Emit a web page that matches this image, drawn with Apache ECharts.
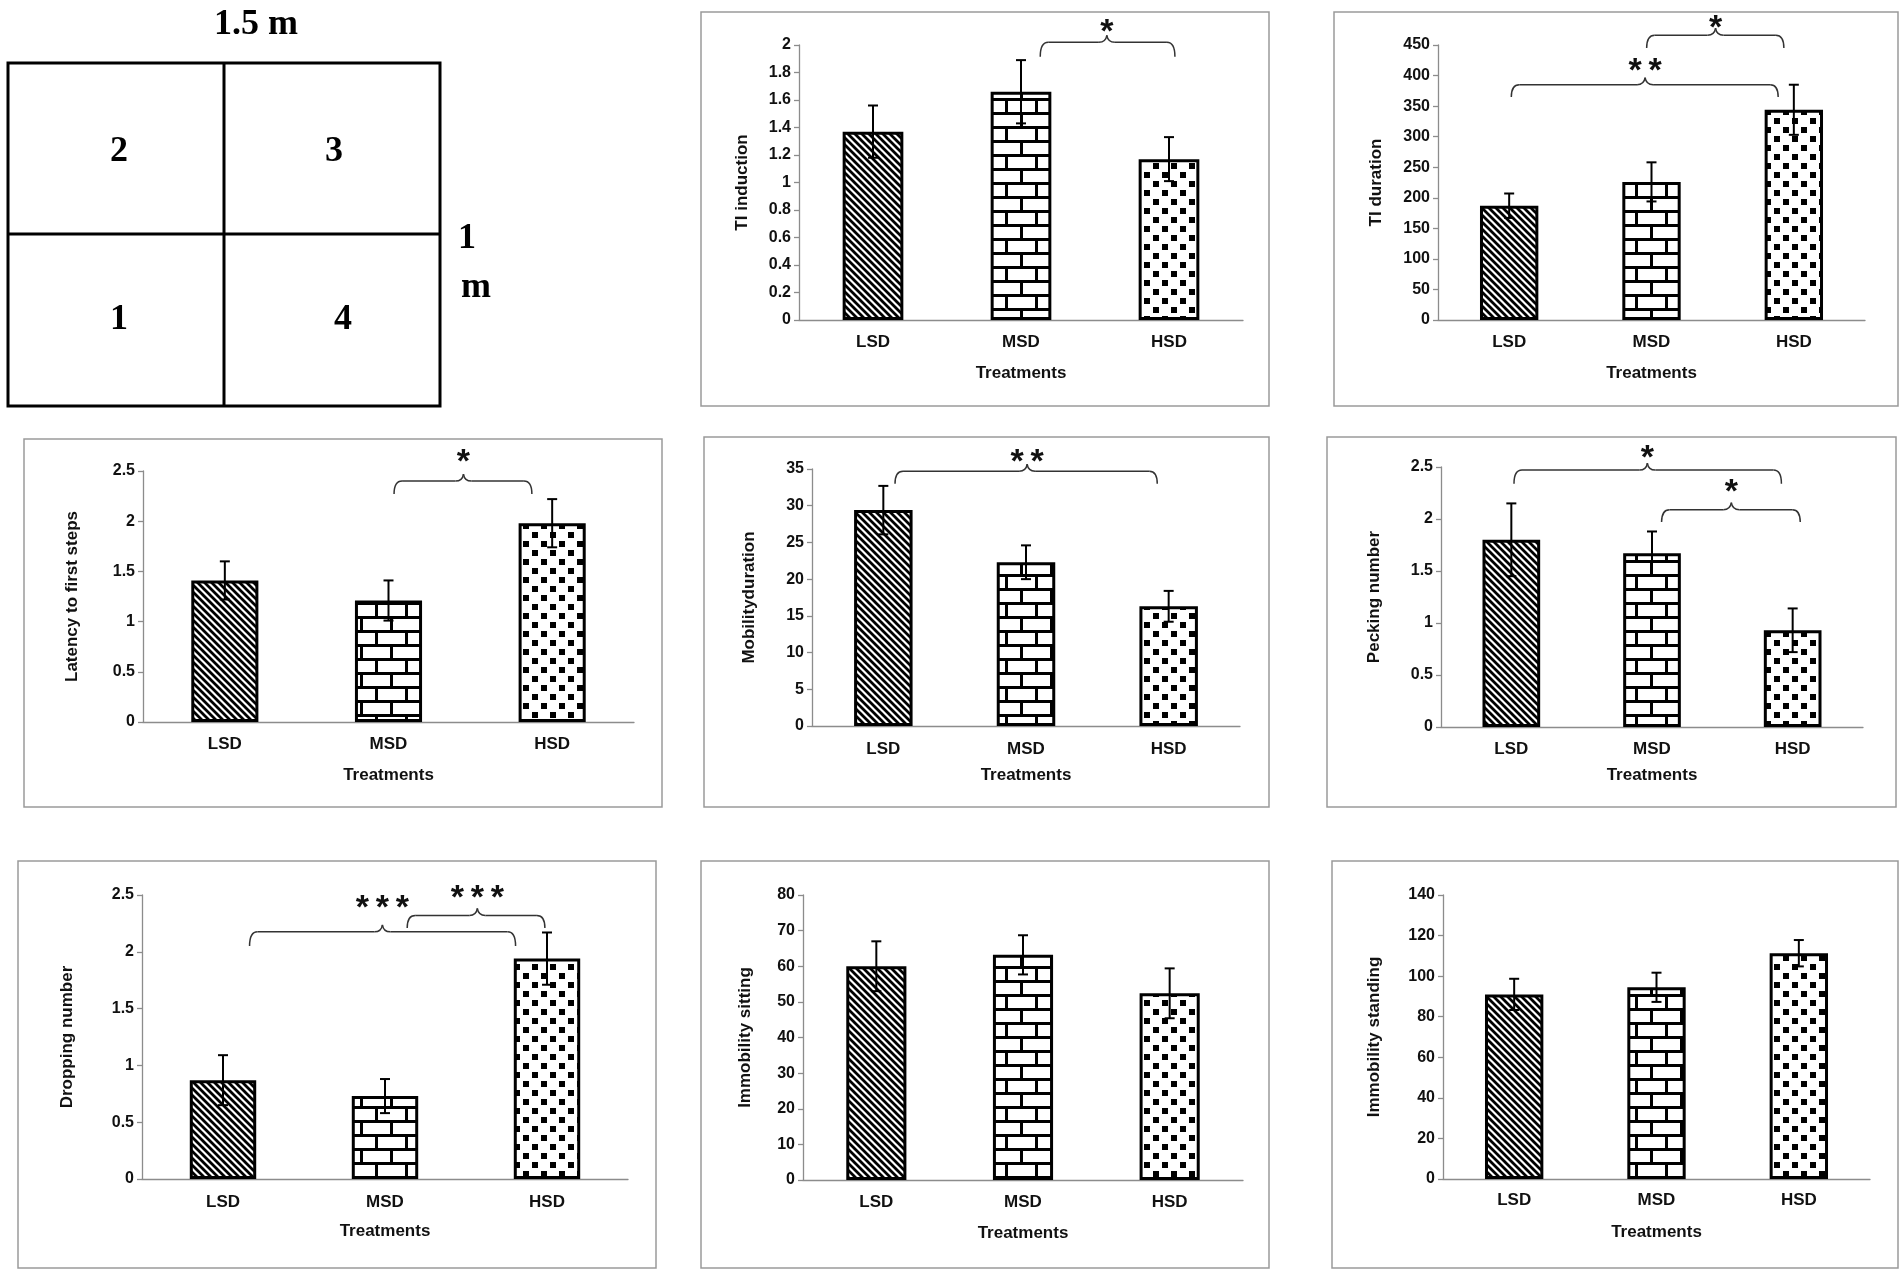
<!DOCTYPE html>
<html><head><meta charset="utf-8">
<script src="https://cdn.jsdelivr.net/npm/echarts/dist/echarts.min.js"></script>
<style>html,body{margin:0;padding:0;background:#fff}#c{width:1902px;height:1274px}</style>
</head><body><div id="c"></div><script>
// ---------- data ----------
const categories = ['LSD', 'MSD', 'HSD'];

const tiInduction = [1.37, 1.66, 1.17];
const tiInductionErr = [0.19, 0.23, 0.16];
const tiDuration = [187, 226, 344];
const tiDurationErr = [20, 32, 41];
const latency = [1.41, 1.21, 1.98];
const latencyErr = [0.19, 0.20, 0.24];
const mobility = [29.4, 22.3, 16.3];
const mobilityErr = [3.3, 2.3, 2.1];
const pecking = [1.80, 1.67, 0.93];
const peckingErr = [0.35, 0.21, 0.21];
const dropping = [0.87, 0.73, 1.94];
const droppingErr = [0.22, 0.15, 0.23];
const sitting = [60, 63.2, 52.4];
const sittingErr = [7, 5.5, 7];
const standing = [91, 94.5, 111.3];
const standingErr = [7.7, 7.2, 6.5];

// significance brackets: [xStart, xEnd, xPeak (category units), yLevel, yEnd, yStar (value units), label]
const tiInductionSig = [[1.13, 2.04, 1.58, 2.02, 1.915, 2.15, '*']];
const tiDurationSig = [[0.015, 1.89, 0.955, 385, 365, 419, '**'], [0.966, 1.93, 1.45, 466, 445, 490, '*']];
const latencySig = [[1.034, 1.876, 1.458, 2.40, 2.27, 2.66, '*']];
const mobilitySig = [[0.082, 1.92, 1.008, 34.7, 33.0, 36.9, '**']];
const peckingSig = [[0.019, 1.92, 0.967, 2.47, 2.34, 2.66, '*'], [1.068, 2.054, 1.564, 2.09, 1.97, 2.33, '*']];
const droppingSig = [[0.164, 1.806, 0.984, 2.176, 2.05, 2.45, '***'], [1.137, 1.987, 1.57, 2.32, 2.21, 2.54, '***']];

const yTicks = {
  tiInduction: [0, 2, 0.2], tiDuration: [0, 450, 50], latency: [0, 2.5, 0.5], mobility: [0, 35, 5],
  pecking: [0, 2.5, 0.5], dropping: [0, 2.5, 0.5], sitting: [0, 80, 10], standing: [0, 140, 20]
};

const panels = [
  {name: 'TI induction', values: tiInduction, errors: tiInductionErr, ticks: yTicks.tiInduction, sig: tiInductionSig},
  {name: 'TI duration', values: tiDuration, errors: tiDurationErr, ticks: yTicks.tiDuration, sig: tiDurationSig},
  {name: 'Latency to first steps', values: latency, errors: latencyErr, ticks: yTicks.latency, sig: latencySig},
  {name: 'Mobilityduration', values: mobility, errors: mobilityErr, ticks: yTicks.mobility, sig: mobilitySig},
  {name: 'Pecking number', values: pecking, errors: peckingErr, ticks: yTicks.pecking, sig: peckingSig},
  {name: 'Dropping number', values: dropping, errors: droppingErr, ticks: yTicks.dropping, sig: droppingSig},
  {name: 'Immobility sitting', values: sitting, errors: sittingErr, ticks: yTicks.sitting, sig: []},
  {name: 'Immobility standing', values: standing, errors: standingErr, ticks: yTicks.standing, sig: []}
];

// ---------- layout (pixels) ----------
const layouts = [
  {box: [701, 12, 1269, 406], grid: [799, 45, 1243, 320], nameX: 742, labY: 343, treatY: 374},
  {box: [1334, 12, 1898, 406], grid: [1438, 45, 1865, 320], nameX: 1376, labY: 343, treatY: 374},
  {box: [24, 439, 662, 807], grid: [143, 471, 634, 722], nameX: 72, labY: 745, treatY: 776},
  {box: [704, 437, 1269, 807], grid: [812, 469, 1240, 726], nameX: 749, labY: 750, treatY: 776},
  {box: [1327, 437, 1896, 807], grid: [1441, 467, 1863, 727], nameX: 1374, labY: 750, treatY: 776},
  {box: [18, 861, 656, 1268], grid: [142, 895, 628, 1179], nameX: 67, labY: 1203, treatY: 1232},
  {box: [701, 861, 1269, 1268], grid: [803, 895, 1243, 1180], nameX: 745, labY: 1203, treatY: 1234},
  {box: [1332, 861, 1898, 1268], grid: [1443, 895, 1870, 1179], nameX: 1374, labY: 1201, treatY: 1233}
];

// ---------- patterns ----------
function mk(w, h, draw) {
  const c = document.createElement('canvas'); c.width = w; c.height = h;
  const g = c.getContext('2d'); g.fillStyle = '#fff'; g.fillRect(0, 0, w, h); g.fillStyle = '#000'; g.strokeStyle = '#000';
  draw(g, w, h); return c;
}
const stripeCanvas = mk(7, 7, (g, s) => {
  g.lineWidth = 2.8; g.beginPath();
  for (let k = -1; k <= 1; k++) { g.moveTo(-1, k * s - 1); g.lineTo(s + 1, s + k * s + 1); }
  g.stroke();
});
const brickCanvas = mk(30, 28, (g) => {
  g.fillRect(0, 0, 30, 3); g.fillRect(0, 14, 30, 3);
  g.fillRect(0, 3, 3, 11); g.fillRect(15, 17, 3, 11);
});
const dotCanvas = mk(18, 18, (g) => {
  g.fillRect(1, 1, 6, 6); g.fillRect(10, 10, 6, 6);
});
const fills = [stripeCanvas, brickCanvas, dotCanvas].map(c => ({image: c, repeat: 'repeat'}));

// ---------- build ----------
const FONT = 'Liberation Sans';
const grid = [], xAxis = [], yAxis = [], series = [], graphic = [];
const axisColor = '#8c8c8c';

panels.forEach((p, i) => {
  const L = layouts[i], g = L.grid;
  grid.push({left: g[0], top: g[1], width: g[2] - g[0], height: g[3] - g[1]});
  xAxis.push({
    gridIndex: i, type: 'category', data: categories,
    axisLine: {lineStyle: {color: axisColor, width: 1.3}},
    axisTick: {length: 5, lineStyle: {color: axisColor, width: 1.3}},
    axisLabel: {color: '#111', fontWeight: 'bold', fontSize: 17, fontFamily: FONT, margin: L.labY - g[3] - 9},
    name: 'Treatments', nameLocation: 'middle', nameGap: L.treatY - g[3] - 9,
    nameTextStyle: {color: '#111', fontWeight: 'bold', fontSize: 17, fontFamily: FONT}
  });
  yAxis.push({
    gridIndex: i, type: 'value', min: p.ticks[0], max: p.ticks[1], interval: p.ticks[2],
    axisLine: {show: true, lineStyle: {color: axisColor, width: 1.3}},
    axisTick: {show: true, length: 5, lineStyle: {color: axisColor, width: 1.3}},
    splitLine: {show: false},
    axisLabel: {color: '#111', fontWeight: 'bold', fontSize: 16, fontFamily: FONT, margin: 8},
    name: p.name, nameLocation: 'middle', nameGap: g[0] - L.nameX - 9,
    nameTextStyle: {color: '#111', fontWeight: 'bold', fontSize: 17, fontFamily: FONT}
  });
  series.push({
    type: 'bar', xAxisIndex: i, yAxisIndex: i, barWidth: '41%',
    data: p.values.map((v, k) => ({value: v, itemStyle: {color: fills[k], borderColor: '#000', borderWidth: 3}})),
    silent: true, animation: false
  });
  series.push({
    type: 'custom', xAxisIndex: i, yAxisIndex: i, z: 5, animation: false, silent: true,
    data: p.values.map((v, k) => [k, v - p.errors[k], v + p.errors[k]]),
    encode: {x: 0, y: 2},
    renderItem: function (params, api) {
      const k = api.value(0), lo = api.coord([k, api.value(1)]), hi = api.coord([k, api.value(2)]);
      const st = {stroke: '#000', lineWidth: 2}, w = 5;
      return {type: 'group', children: [
        {type: 'line', shape: {x1: hi[0], y1: lo[1], x2: hi[0], y2: hi[1]}, style: st},
        {type: 'line', shape: {x1: hi[0] - w, y1: hi[1], x2: hi[0] + w, y2: hi[1]}, style: st},
        {type: 'line', shape: {x1: hi[0] - w, y1: lo[1], x2: hi[0] + w, y2: lo[1]}, style: st}
      ]};
    }
  });
  if (p.sig.length) {
    const sig = p.sig;
    series.push({
      type: 'custom', xAxisIndex: i, yAxisIndex: i, z: 6, animation: false, silent: true, clip: false,
      data: sig.map(b => [b[2], b[3], b[0], b[1], b[4], b[5]]),
      encode: {x: 0, y: 1},
      renderItem: function (params, api) {
        const b = sig[params.dataIndex];
        const a0 = api.coord([0, b[3]]), a1 = api.coord([1, b[3]]);
        const X = f => a0[0] + f * (a1[0] - a0[0]);
        const x1 = X(b[0]), x2 = X(b[1]), xm = X(b[2]);
        const yl = a0[1], ye = api.coord([0, b[4]])[1], ys = api.coord([0, b[5]])[1];
        const r = 8, pk = 7;
        const st = {stroke: '#333', lineWidth: 1.5, fill: null};
        return {type: 'group', children: [
          {type: 'bezierCurve', shape: {x1: x1, y1: ye, cpx1: x1, cpy1: yl, x2: x1 + r, y2: yl}, style: st},
          {type: 'line', shape: {x1: x1 + r, y1: yl, x2: xm - r, y2: yl}, style: st},
          {type: 'bezierCurve', shape: {x1: xm - r, y1: yl, cpx1: xm - 1, cpy1: yl, x2: xm, y2: yl - pk}, style: st},
          {type: 'bezierCurve', shape: {x1: xm, y1: yl - pk, cpx1: xm + 1, cpy1: yl, x2: xm + r, y2: yl}, style: st},
          {type: 'line', shape: {x1: xm + r, y1: yl, x2: x2 - r, y2: yl}, style: st},
          {type: 'bezierCurve', shape: {x1: x2 - r, y1: yl, cpx1: x2, cpy1: yl, x2: x2, y2: ye}, style: st},
          {type: 'text', style: {text: b[6].split('').join('\u2009'), x: xm, y: ys + 8, align: 'center', verticalAlign: 'middle',
            font: 'bold 34px "Liberation Sans"', fill: '#111'}}
        ]};
      }
    });
  }
  const bx = L.box;
  graphic.push({type: 'rect', silent: true, z: 0, shape: {x: bx[0], y: bx[1], width: bx[2] - bx[0], height: bx[3] - bx[1]},
    style: {fill: null, stroke: '#9a9a9a', lineWidth: 1.5}});
});

// arena diagram
const arenaStyle = {stroke: '#000', lineWidth: 3, fill: null};
const serif = 'bold 36px "Liberation Serif"';
graphic.push(
  {type: 'rect', shape: {x: 8, y: 63, width: 432, height: 343}, style: arenaStyle},
  {type: 'line', shape: {x1: 224, y1: 63, x2: 224, y2: 406}, style: arenaStyle},
  {type: 'line', shape: {x1: 8, y1: 234, x2: 440, y2: 234}, style: arenaStyle},
  {type: 'text', style: {text: '1.5 m', x: 256, y: 25, align: 'center', verticalAlign: 'middle', font: serif, fill: '#000'}},
  {type: 'text', style: {text: '1', x: 467, y: 239, align: 'center', verticalAlign: 'middle', font: serif, fill: '#000'}},
  {type: 'text', style: {text: 'm', x: 476, y: 288, align: 'center', verticalAlign: 'middle', font: serif, fill: '#000'}},
  {type: 'text', style: {text: '2', x: 119, y: 152, align: 'center', verticalAlign: 'middle', font: serif, fill: '#000'}},
  {type: 'text', style: {text: '3', x: 334, y: 152, align: 'center', verticalAlign: 'middle', font: serif, fill: '#000'}},
  {type: 'text', style: {text: '1', x: 119, y: 320, align: 'center', verticalAlign: 'middle', font: serif, fill: '#000'}},
  {type: 'text', style: {text: '4', x: 343, y: 320, align: 'center', verticalAlign: 'middle', font: serif, fill: '#000'}}
);

const chart = echarts.init(document.getElementById('c'), null, {renderer: 'canvas'});
chart.setOption({animation: false, backgroundColor: '#fff', grid, xAxis, yAxis, series, graphic});
</script></body></html>
